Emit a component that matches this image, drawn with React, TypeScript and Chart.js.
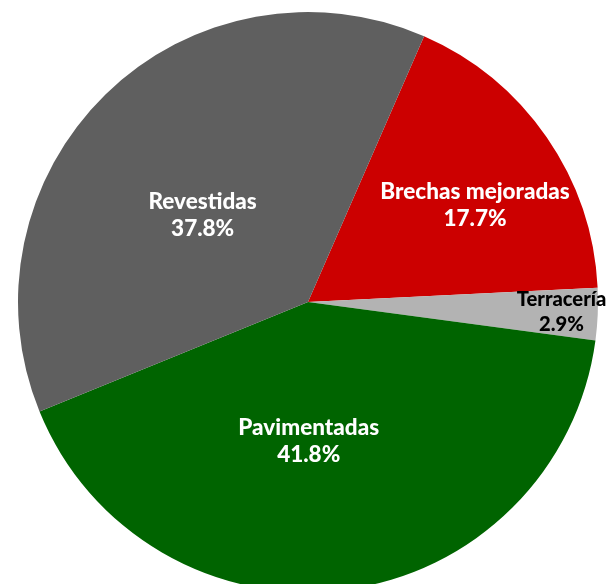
import React, { useEffect, useRef } from "react";
import { Chart, registerables } from "chart.js";

Chart.register(...registerables);

const categories = ["Brechas mejoradas", "Terracería", "Pavimentadas", "Revestidas"];
const shares = [17.7, 2.9, 41.8, 37.8];
const colors = ["#cc0000", "#b3b3b3", "#006400", "#5f5f5f"];
const labelColors = ["#ffffff", "#000000", "#ffffff", "#ffffff"];
// label placement: radial fraction and angular tweak (degrees) per slice
const labelRadius = [0.665, 0.875, 0.48, 0.47];
const labelAngleShift = [4.6, -0.2, 7, -6.3];

const labelPlugin = {
  id: "sliceLabels",
  afterDatasetsDraw(chart: any) {
    const ctx = chart.ctx;
    const meta = chart.getDatasetMeta(0);
    meta.data.forEach((arc: any, i: number) => {
      const p = arc.getProps(["x", "y", "startAngle", "endAngle", "outerRadius"], true);
      const mid = (p.startAngle + p.endAngle) / 2 + (labelAngleShift[i] * Math.PI) / 180;
      const r = p.outerRadius * labelRadius[i];
      const x = p.x + Math.cos(mid) * r;
      const y = p.y + Math.sin(mid) * r;
      ctx.save();
      ctx.fillStyle = labelColors[i];
      ctx.textAlign = "center";
      ctx.textBaseline = "middle";
      const size = i === 1 ? 20.2 : 22.5;
      ctx.font = `900 ${size}px Lato, "Open Sans", sans-serif`;
      const lh = i === 1 ? 25 : 27;
      ctx.fillText(categories[i], x, y - lh / 2);
      ctx.fillText(shares[i].toFixed(1) + "%", x, y + lh / 2);
      ctx.restore();
    });
  },
};

export default function App() {
  const ref = useRef<HTMLCanvasElement | null>(null);
  useEffect(() => {
    document.body.style.margin = "0";
    document.body.style.overflow = "hidden";
    const chart = new Chart(ref.current as HTMLCanvasElement, {
      type: "pie",
      data: {
        labels: categories,
        datasets: [
          {
            data: shares,
            backgroundColor: colors,
            borderWidth: 0,
          },
        ],
      },
      options: {
        responsive: false,
        animation: false,
        rotation: 23.6,
        layout: { padding: 12 },
        plugins: {
          legend: { display: false },
          tooltip: { enabled: false },
        },
      },
      plugins: [labelPlugin],
    });
    return () => chart.destroy();
  }, []);
  return (
    <div style={{ position: "fixed", left: 0, top: 0, width: 609, height: 584, overflow: "hidden", background: "#fff" }}>
      <canvas ref={ref} width={616} height={604} style={{ display: "block" }} />
    </div>
  );
}
